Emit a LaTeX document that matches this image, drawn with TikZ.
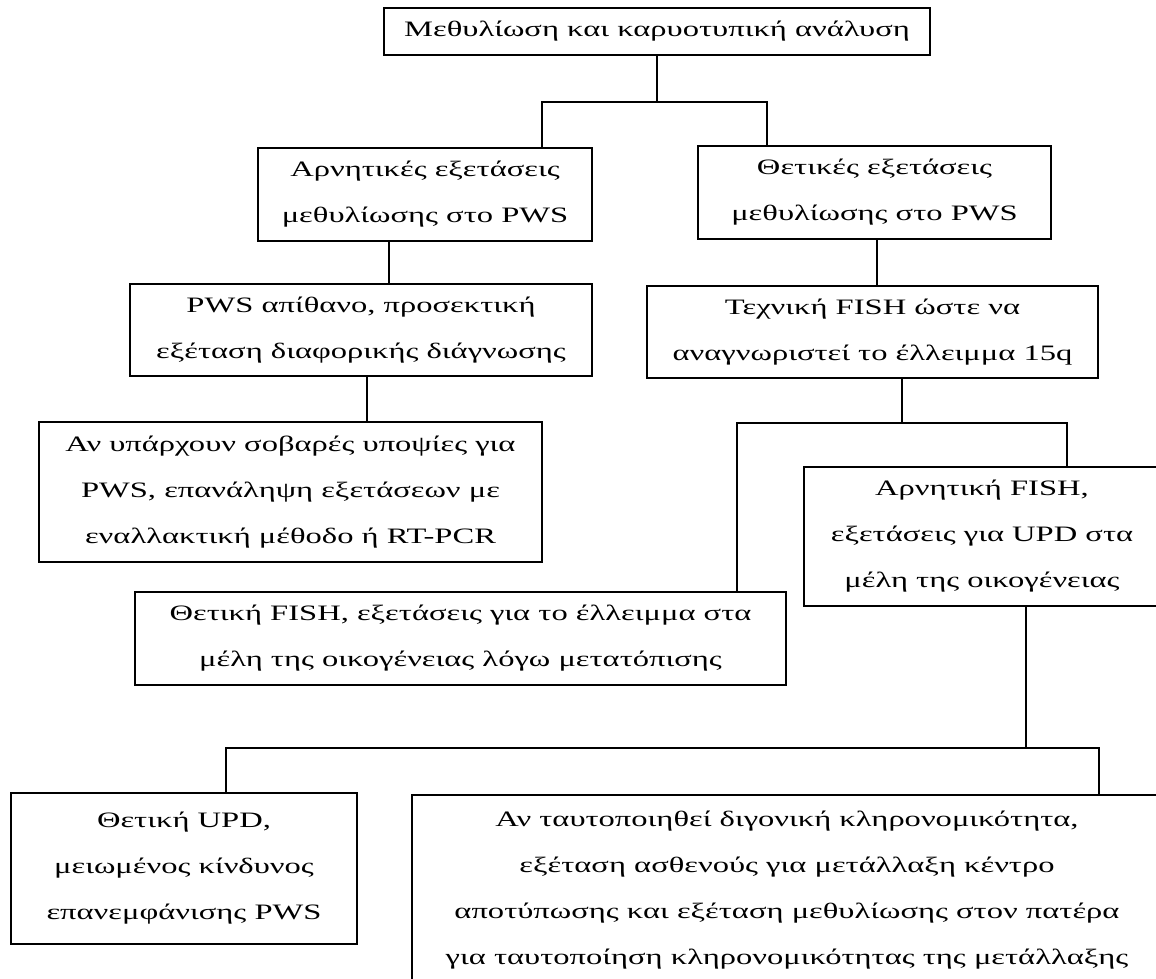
\documentclass[tikz,border=0pt]{standalone}
\usepackage{fontspec}
\setmainfont{Liberation Serif}[FakeStretch=1.48]
\usepackage{tikz}

\tikzset{
    box/.style 2 args={draw, line width=1.5pt, minimum width=#1, minimum height=#2,
        inner sep=0pt, align=center, font=\fontsize{22}{46}\selectfont},
    link/.style={line width=1.5pt}
}

\begin{document}
\begin{tikzpicture}[x=1pt, y=-1pt]
            \useasboundingbox (0,0) rectangle (1156,978);
            \clip (0,0) rectangle (1156,978);

            % Top level
            \node[box={546pt}{47pt}] (start) at (657,31.5) {Μεθυλίωση και καρυοτυπική ανάλυση};
            \node[box={334pt}{93pt}] (neg) at (425,194.5) {Αρνητικές εξετάσεις\\μεθυλίωσης στο PWS};
            \node[box={353pt}{93pt}] (pos) at (874.5,192.5) {Θετικές εξετάσεις\\μεθυλίωσης στο PWS};

            % Negative branch
            \node[box={462pt}{92pt}] (unlikely) at (361,330) {PWS απίθανο, προσεκτική\\εξέταση διαφορικής διάγνωσης};
            \node[box={503pt}{140pt}] (repeat) at (290.5,492) {Αν υπάρχουν σοβαρές υποψίες για\\PWS, επανάληψη εξετάσεων με\\εναλλακτική μέθοδο ή RT-PCR};

            % Positive branch
            \node[box={451pt}{92pt}] (fish) at (872.5,332) {Τεχνική FISH ώστε να\\αναγνωριστεί το έλλειμμα 15q};
            \node[box={356pt}{139pt}] (negfish) at (982,536.5) {Αρνητική FISH,\\εξετάσεις για UPD στα\\μέλη της οικογένειας};
            \node[box={651pt}{93pt}] (posfish) at (460.5,638.5) {Θετική FISH, εξετάσεις για το έλλειμμα στα\\μέλη της οικογένειας λόγω μετατόπισης};

            % UPD results
            \node[box={346pt}{151pt}] (posupd) at (184,868.5) {Θετική UPD,\\μειωμένος κίνδυνος\\επανεμφάνισης PWS};
            \node[box={750pt}{190pt}] (biparent) at (787,890) {Αν ταυτοποιηθεί διγονική κληρονομικότητα,\\εξέταση ασθενούς για μετάλλαξη κέντρο\\αποτύπωσης και εξέταση μεθυλίωσης στον πατέρα\\για ταυτοποίηση κληρονομικότητας της μετάλλαξης};

            % Connectors
            \coordinate (barA) at (542,102);
            \coordinate (barB) at (767,102);
            \draw[link] (start.south) -- (start.south |- barA);
            \draw[link] (barA |- neg.north) -- (barA) -- (barB) -- (barB |- pos.north);

            \coordinate (negdown) at (389,0);
            \draw[link] (negdown |- neg.south) -- (negdown |- unlikely.north);
            \coordinate (unldown) at (367,0);
            \draw[link] (unldown |- unlikely.south) -- (unldown |- repeat.north);

            \coordinate (posdown) at (877,0);
            \draw[link] (posdown |- pos.south) -- (posdown |- fish.north);

            \coordinate (barC) at (737,423);
            \coordinate (barD) at (1067,423);
            \coordinate (fishdown) at (902,423);
            \draw[link] (fishdown |- fish.south) -- (fishdown);
            \draw[link] (barC |- posfish.north) -- (barC) -- (barD) -- (barD |- negfish.north);

            \coordinate (barE) at (226,748);
            \coordinate (barF) at (1099,748);
            \coordinate (updown) at (1026,748);
            \draw[link] (updown |- negfish.south) -- (updown);
            \draw[link] (barE |- posupd.north) -- (barE) -- (barF) -- (barF |- biparent.north);
\end{tikzpicture}
\end{document}
